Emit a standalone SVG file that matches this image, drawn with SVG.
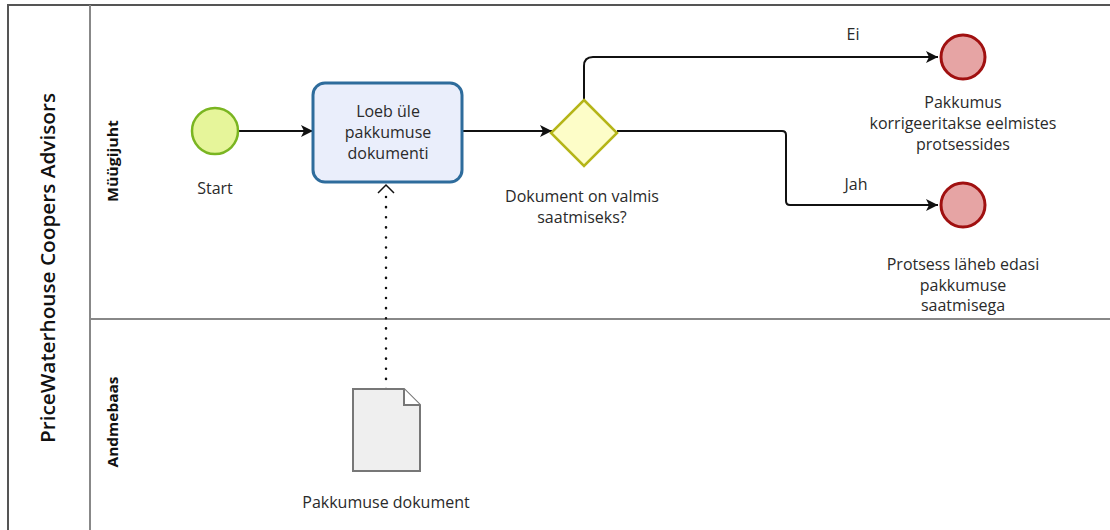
<svg xmlns="http://www.w3.org/2000/svg" width="1110" height="530" viewBox="0 0 1110 530">
  <style>
    text { font-family: "Open Sans", "Noto Sans", "DejaVu Sans", sans-serif; fill: #2a2a2a; font-size: 16px; }
    .c { text-anchor: middle; }
    .lane { font-weight: bold; font-size: 14px; fill: #111; }
    .pool { font-size: 19px; font-weight: 600; fill: #111; }
    .flow { fill: none; stroke: #111; stroke-width: 2; }
    .assoc { fill: none; stroke: #111; stroke-width: 2.5; stroke-dasharray: 0.1 10; stroke-linecap: round; }
    .end { fill: #e6a4a4; stroke: #a01010; stroke-width: 3; }
  </style>
  <defs>
    <marker id="arrow" viewBox="0 0 12 12" refX="12" refY="6" markerWidth="12" markerHeight="12" markerUnits="userSpaceOnUse" orient="auto">
      <path d="M0,0 L12,6 L0,12 L3,6 Z" fill="#111"/>
    </marker>
  </defs>

  <rect width="1110" height="530" fill="#fff"/>

  <!-- pool and lanes -->
  <g id="pool">
    <path d="M8,530 V5 H1110" fill="none" stroke="#555" stroke-width="2"/>
    <line x1="90" y1="5" x2="90" y2="530" stroke="#888" stroke-width="2"/>
    <line x1="90" y1="319" x2="1110" y2="319" stroke="#888" stroke-width="2"/>
    <text class="pool c" transform="translate(55,268) rotate(-90)" textLength="350" lengthAdjust="spacingAndGlyphs">PriceWaterhouse Coopers Advisors</text>
    <text class="lane c" transform="translate(118,161) rotate(-90)" textLength="82" lengthAdjust="spacingAndGlyphs">Müügijuht</text>
    <text class="lane c" transform="translate(118,422) rotate(-90)" textLength="91" lengthAdjust="spacingAndGlyphs">Andmebaas</text>
  </g>

  <!-- connectors -->
  <g id="connectors">
    <path class="flow" d="M238,131 H313" marker-end="url(#arrow)"/>
    <path class="flow" d="M462,131 H552" marker-end="url(#arrow)"/>
    <path class="flow" d="M584,100 V66 Q584,57 593,57 H938" marker-end="url(#arrow)"/>
    <path class="flow" d="M617,131 H782 Q786,131 786,135 V201 Q786,205 790,205 H938" marker-end="url(#arrow)"/>
    <path class="assoc" d="M386,389 V196"/>
    <path d="M378,193 L386,185 L394,193" fill="none" stroke="#111" stroke-width="1.5"/>
    <text class="c" x="853" y="40">Ei</text>
    <text class="c" x="856" y="190">Jah</text>
  </g>

  <g id="start">
    <circle cx="215" cy="131" r="23" fill="#e6f59a" stroke="#7ab521" stroke-width="2.5"/>
    <text class="c" x="215" y="194">Start</text>
  </g>

  <g id="task">
    <rect x="313" y="83" width="149" height="99" rx="12" fill="#eaeefb" stroke="#2e6c9c" stroke-width="3"/>
    <text class="c" x="388" y="117">Loeb üle</text>
    <text class="c" x="388" y="138">pakkumuse</text>
    <text class="c" x="388" y="159">dokumenti</text>
  </g>

  <g id="gateway">
    <path d="M584,100 L617,133 L584,166 L551,133 Z" fill="#fdfdc8" stroke="#b5b518" stroke-width="2.5"/>
    <text class="c" x="582" y="202">Dokument on valmis</text>
    <text class="c" x="582" y="223">saatmiseks?</text>
  </g>

  <g id="end-ei">
    <circle class="end" cx="963" cy="57" r="22"/>
    <text class="c" x="963" y="108">Pakkumus</text>
    <text class="c" x="963" y="129">korrigeeritakse eelmistes</text>
    <text class="c" x="963" y="150">protsessides</text>
  </g>

  <g id="end-jah">
    <circle class="end" cx="963" cy="205" r="22"/>
    <text class="c" x="963" y="270">Protsess läheb edasi</text>
    <text class="c" x="963" y="291">pakkumuse</text>
    <text class="c" x="963" y="311">saatmisega</text>
  </g>

  <g id="document">
    <path d="M353,389 H404 L420,405 V471 H353 Z" fill="#efefef" stroke="#777" stroke-width="2"/>
    <path d="M404,389 V405 H420" fill="#fff" stroke="#777" stroke-width="2"/>
    <text class="c" x="386" y="508">Pakkumuse dokument</text>
  </g>
</svg>
